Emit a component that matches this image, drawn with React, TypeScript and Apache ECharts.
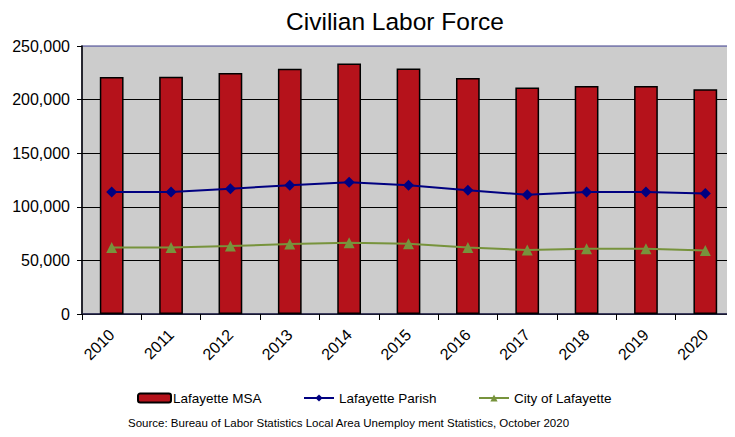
import React, { useEffect, useRef } from "react";
import * as echarts from "echarts";

const years = ["2010", "2011", "2012", "2013", "2014", "2015", "2016", "2017", "2018", "2019", "2020"];
const msa = [221100, 221200, 224800, 228700, 233600, 228900, 220200, 211200, 212700, 212700, 209600];
const parish = [113700, 113700, 116800, 120200, 123000, 120200, 115500, 111200, 113700, 113700, 112400];
const city = [62100, 62100, 63400, 65300, 66500, 65500, 62100, 59600, 60800, 60800, 59300];
const yTicks = [0, 50000, 100000, 150000, 200000, 250000];

const FONT = "'Liberation Sans', Arial, sans-serif";

export default function App() {
  const ref = useRef<HTMLDivElement>(null);
  useEffect(() => {
    if (!ref.current) return;
    const chart = echarts.init(ref.current, null, { renderer: "svg" });
    const legendText = { fontSize: 13.5, color: "#000", fontFamily: FONT };
    chart.setOption({
      animation: false,
      textStyle: { fontFamily: FONT },
      title: {
        text: "Civilian Labor Force",
        left: 390,
        textAlign: "center",
        top: 4,
        textStyle: { fontSize: 24.5, fontWeight: "normal", color: "#000", fontFamily: FONT },
      },
      grid: {
        left: 82,
        top: 46,
        width: 662,
        height: 268,
        show: true,
        backgroundColor: "#cccccc",
        borderColor: "#8080b0",
        borderWidth: 1.5,
      },
      legend: [
        {
          left: 132,
          top: 386,
          itemWidth: 33,
          itemHeight: 9,
          textStyle: { ...legendText, padding: [0, 0, 0, -3] },
          data: ["Lafayette MSA"],
        },
        {
          left: 298,
          top: 386,
          itemWidth: 30,
          itemHeight: 9,
          textStyle: legendText,
          data: ["Lafayette Parish"],
        },
        {
          left: 473,
          top: 386,
          itemWidth: 30,
          itemHeight: 9,
          textStyle: legendText,
          data: ["City of Lafayette"],
        },
      ],
      xAxis: {
        type: "category",
        data: years,
        axisLine: { lineStyle: { color: "#202040", width: 1.5 } },
        axisTick: { show: true, length: 6, lineStyle: { color: "#000" } },
        axisLabel: { rotate: 45, fontSize: 16, color: "#000", margin: 18, fontFamily: FONT },
      },
      yAxis: {
        type: "value",
        min: yTicks[0],
        max: yTicks[yTicks.length - 1],
        interval: yTicks[1] - yTicks[0],
        axisLine: { show: true, lineStyle: { color: "#000", width: 1.5 } },
        axisTick: { show: true, length: 5, lineStyle: { color: "#000" } },
        axisLabel: {
          fontSize: 16,
          color: "#000",
          margin: 12,
          fontFamily: FONT,
          formatter: (v: number) => v.toLocaleString("en-US"),
        },
        splitLine: {
          lineStyle: { color: ["#000", "#000", "#000", "#000", "#000", "#8080b0"], width: 1 },
        },
      },
      series: [
        {
          name: "Lafayette MSA",
          type: "bar",
          data: msa,
          barWidth: "40%",
          itemStyle: { color: "#b5121b", borderColor: "#000", borderWidth: 1.5 },
        },
        {
          name: "Lafayette Parish",
          type: "line",
          data: parish,
          symbol: "diamond",
          symbolSize: 11,
          lineStyle: { color: "#000080", width: 2 },
          itemStyle: { color: "#000080" },
        },
        {
          name: "City of Lafayette",
          type: "line",
          data: city,
          symbol: "triangle",
          symbolSize: 11,
          lineStyle: { color: "#77933c", width: 2 },
          itemStyle: { color: "#77933c" },
        },
      ],
      graphic: [
        {
          type: "text",
          left: 128,
          top: 417,
          style: {
            text: "Source: Bureau of Labor Statistics Local Area Unemploy ment Statistics, October 2020",
            fontSize: 11.5,
            fill: "#000",
            fontFamily: FONT,
          },
        },
      ],
    });
    return () => chart.dispose();
  }, []);
  return <div ref={ref} style={{ width: 735, height: 437, margin: -8 }} />;
}
